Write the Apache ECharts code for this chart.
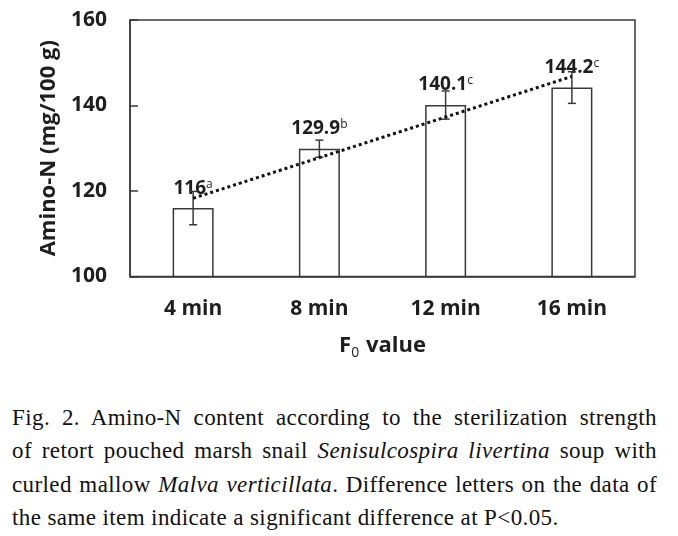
<!DOCTYPE html>
<html>
<head>
<meta charset="utf-8">
<script src="https://cdn.jsdelivr.net/npm/echarts@6/dist/echarts.min.js"></script>
<style>
  html, body { margin: 0; padding: 0; background: #fff; }
  #wrap { position: relative; width: 678px; height: 536px; overflow: hidden; background: #fff; }
  #chart { position: absolute; left: 0; top: 0; width: 678px; height: 385px; }
  #caption { position: absolute; left: 12px; top: 401px; width: 645px;
    font-family: "Liberation Serif", "DejaVu Serif", serif; font-size: 23px; line-height: 33.3px;
    letter-spacing: 0.4px; color: #111; }
  #caption .ln { text-align: justify; text-align-last: justify; white-space: nowrap; }
  #caption .ln.last { text-align: left; text-align-last: left; }
</style>
</head>
<body>
<div id="wrap">
  <div id="chart"></div>
  <div id="caption">
    <div class="ln">Fig. 2. Amino-N content according to the sterilization strength</div>
    <div class="ln">of retort pouched marsh snail <i>Senisulcospira livertina</i> soup with</div>
    <div class="ln">curled mallow <i>Malva verticillata</i>. Difference letters on the data of</div>
    <div class="ln last">the same item indicate a significant difference at P&lt;0.05.</div>
  </div>
</div>
<script>
const categories = ['4 min', '8 min', '12 min', '16 min'];
const values = [116, 129.9, 140.1, 144.2];
const errors = [3.9, 2.0, 3.3, 3.7];
const letters = ['a', 'b', 'c', 'c'];
const valueLabels = ['116', '129.9', '140.1', '144.2'];
const trend = [118.3, 127.8, 137.3, 146.8];
const yTicks = [100, 120, 140, 160];

const chart = echarts.init(document.getElementById('chart'), null, { renderer: 'canvas' });
const lineColor = '#3a3a3a';
const textColor = '#1e1e1e';
const sans = '"Open Sans", "Noto Sans", sans-serif';

const option = {
  backgroundColor: '#fff',
  animation: false,
  grid: { left: 130, right: 43, top: 20, bottom: 108.5, show: true, borderColor: lineColor, borderWidth: 1.5, backgroundColor: 'transparent' },
  xAxis: {
    type: 'category',
    data: categories,
    boundaryGap: true,
    axisLine: { lineStyle: { color: lineColor, width: 1.5 } },
    axisTick: { inside: true, length: 8, lineStyle: { color: lineColor, width: 1.5 } },
    axisLabel: { margin: 22, fontFamily: sans, fontWeight: 'bold', fontSize: 21, color: textColor },
    name: '{f|F}{s|0}{f| value}',
    nameLocation: 'middle',
    nameGap: 54,
    nameTextStyle: {
      rich: {
        f: { fontFamily: sans, fontWeight: 'bold', fontSize: 22, color: textColor, lineHeight: 26, verticalAlign: 'bottom' },
        s: { fontFamily: sans, fontWeight: 'normal', fontSize: 14, color: textColor, lineHeight: 20, verticalAlign: 'bottom', padding: [0, 1, -4, 0] }
      }
    }
  },
  yAxis: {
    type: 'value',
    min: yTicks[0],
    max: yTicks[yTicks.length - 1],
    interval: yTicks[1] - yTicks[0],
    splitLine: { show: false },
    axisLine: { show: true, lineStyle: { color: lineColor, width: 1.5 } },
    axisTick: { show: true, inside: true, length: 8, lineStyle: { color: lineColor, width: 1.5 } },
    axisLabel: { margin: 23, fontFamily: sans, fontWeight: 'bold', fontSize: 21, color: textColor },
    name: 'Amino-N (mg/100 g)',
    nameLocation: 'middle',
    nameRotate: 90,
    nameGap: 68,
    nameTextStyle: { fontFamily: sans, fontWeight: 'bold', fontSize: 22, color: textColor }
  },
  series: [
    {
      type: 'bar',
      data: values,
      barWidth: 41,
      itemStyle: { color: '#fff', borderColor: lineColor, borderWidth: 1.5 },
      label: {
        show: true,
        position: 'top',
        distance: 10,
        formatter: (p) => '{v|' + valueLabels[p.dataIndex] + '}{s|' + letters[p.dataIndex] + '}',
        rich: {
          v: { fontFamily: sans, fontWeight: 'bold', fontSize: 19, color: textColor, lineHeight: 20 },
          s: { fontFamily: sans, fontWeight: 'normal', fontSize: 12, color: textColor, lineHeight: 20, verticalAlign: 'top', padding: [0, 0, 8, 0] }
        }
      },
      z: 2
    },
    {
      type: 'custom',
      data: values.map((v, i) => [i, v, errors[i]]),
      renderItem: function (params, api) {
        const x = api.value(0), v = api.value(1), e = api.value(2);
        const top = api.coord([x, v + e]);
        const bot = api.coord([x, v - e]);
        const hw = 4;
        const st = { stroke: lineColor, lineWidth: 1.5 };
        return {
          type: 'group',
          children: [
            { type: 'line', shape: { x1: top[0], y1: top[1], x2: bot[0], y2: bot[1] }, style: st },
            { type: 'line', shape: { x1: top[0] - hw, y1: top[1], x2: top[0] + hw, y2: top[1] }, style: st },
            { type: 'line', shape: { x1: bot[0] - hw, y1: bot[1], x2: bot[0] + hw, y2: bot[1] }, style: st }
          ]
        };
      },
      z: 3
    },
    {
      type: 'line',
      data: trend,
      symbol: 'none',
      lineStyle: { color: '#111', width: 3, type: [3, 3] },
      z: 4
    }
  ]
};
chart.setOption(option);
</script>
</body>
</html>
